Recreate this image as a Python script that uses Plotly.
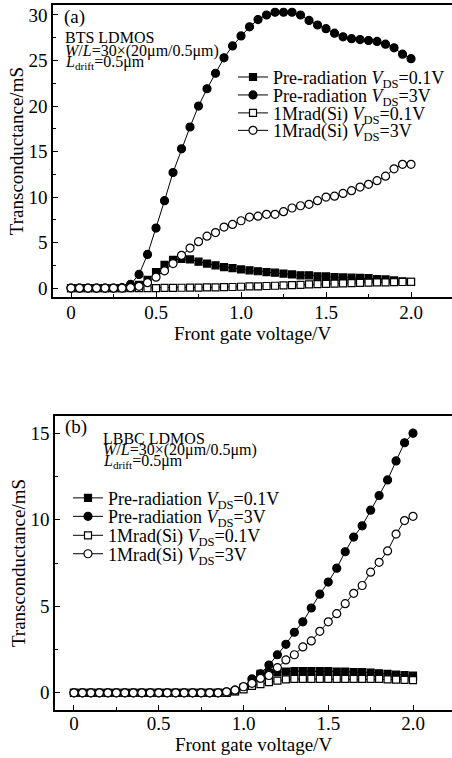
import plotly.graph_objects as go

W, H = 452, 758

# ---------------- data ----------------
vg = [0.00, 0.05, 0.10, 0.15, 0.20, 0.25, 0.30, 0.35, 0.40, 0.45, 0.50,
      0.55, 0.60, 0.65, 0.70, 0.75, 0.80, 0.85, 0.90, 0.95, 1.00,
      1.05, 1.10, 1.15, 1.20, 1.25, 1.30, 1.35, 1.40, 1.45, 1.50,
      1.55, 1.60, 1.65, 1.70, 1.75, 1.80, 1.85, 1.90, 1.95, 2.00]

# Panel (a) BTS LDMOS
a_pre_01 = [0, 0, 0, 0, 0, 0, 0, 0.1, 0.35, 0.9, 1.75,
            2.55, 3.1, 3.2, 3.15, 2.9, 2.7, 2.5, 2.3, 2.2, 2.05,
            1.95, 1.85, 1.75, 1.7, 1.6, 1.5, 1.4, 1.4, 1.3, 1.28,
            1.2, 1.17, 1.15, 1.13, 1.1, 1.0, 0.95, 0.85, 0.75, 0.68]
a_pre_3 = [0, 0, 0, 0, 0, 0, 0.05, 0.4, 1.5, 3.7, 6.6,
           9.6, 12.7, 15.3, 17.7, 20.0, 21.9, 23.6, 25.3, 26.6, 27.7,
           28.7, 29.5, 30.0, 30.3, 30.3, 30.3, 30.0, 29.4, 28.9, 28.5,
           28.0, 27.6, 27.4, 27.3, 27.2, 27.1, 26.8, 26.4, 25.7, 25.2]
a_rad_01 = [0, 0, 0, 0, 0, 0, 0, 0, 0, 0, 0,
            0.02, 0.03, 0.04, 0.05, 0.06, 0.08, 0.09, 0.1, 0.12, 0.15,
            0.18, 0.2, 0.23, 0.26, 0.3, 0.33, 0.36, 0.4, 0.43, 0.46,
            0.5, 0.52, 0.55, 0.57, 0.6, 0.62, 0.63, 0.65, 0.67, 0.7]
a_rad_3 = [0, 0, 0, 0, 0, 0, 0, 0.05, 0.2, 0.6, 1.2,
           1.9, 2.7, 3.6, 4.4, 5.1, 5.7, 6.1, 6.7, 7.0, 7.4,
           7.8, 7.9, 8.1, 8.1, 8.4, 8.8, 9.05, 9.2, 9.6, 10.0,
           10.1, 10.4, 10.7, 11.1, 11.4, 11.8, 12.3, 13.1, 13.6, 13.6]

# Panel (b) LBBC LDMOS
b_pre_01 = [0, 0, 0, 0, 0, 0, 0, 0, 0, 0, 0,
            0, 0, 0, 0, 0, 0, 0, 0, 0.1, 0.3,
            0.7, 1.1, 1.15, 1.2, 1.22, 1.25, 1.25, 1.25, 1.25, 1.25,
            1.23, 1.22, 1.2, 1.2, 1.17, 1.13, 1.1, 1.05, 1.02, 1.0]
b_pre_3 = [0, 0, 0, 0, 0, 0, 0, 0, 0, 0, 0,
           0, 0, 0, 0, 0, 0, 0, 0.05, 0.15, 0.35,
           0.8, 1.1, 1.6, 2.2, 2.8, 3.5, 4.1, 4.9, 5.7, 6.4,
           7.2, 8.15, 9.0, 9.65, 10.55, 11.4, 12.3, 13.4, 14.45, 15.0]
b_rad_01 = [0, 0, 0, 0, 0, 0, 0, 0, 0, 0, 0,
            0, 0, 0, 0, 0, 0, 0, 0, 0.08, 0.2,
            0.4, 0.5, 0.62, 0.7, 0.78, 0.8, 0.8, 0.8, 0.8, 0.8,
            0.8, 0.8, 0.8, 0.8, 0.8, 0.8, 0.78, 0.76, 0.75, 0.73]
b_rad_3 = [0, 0, 0, 0, 0, 0, 0, 0, 0, 0, 0,
           0, 0, 0, 0, 0, 0, 0, 0.06, 0.15, 0.35,
           0.55, 0.83, 1.0, 1.45, 1.9, 2.2, 2.65, 3.0, 3.55, 4.1,
           4.57, 5.15, 5.75, 6.2, 6.97, 7.54, 8.2, 9.17, 9.95, 10.2]

names = ["Pre-radiation <i>V</i><sub>DS</sub>=0.1V",
         "Pre-radiation <i>V</i><sub>DS</sub>=3V",
         "1Mrad(Si) <i>V</i><sub>DS</sub>=0.1V",
         "1Mrad(Si) <i>V</i><sub>DS</sub>=3V"]

xticks = [0, 0.5, 1.0, 1.5, 2.0]
xticklabels = ["0", "0.5", "1.0", "1.5", "2.0"]

# ---------------- styling ----------------
FONT = "Liberation Serif"
styles = [
    dict(symbol="square", size=7, color="black", lc="black"),
    dict(symbol="circle", size=8, color="black", lc="black"),
    dict(symbol="square", size=7, color="white", lc="black"),
    dict(symbol="circle", size=8, color="white", lc="black"),
]

def px2x(px):
    return px / W

def px2y(py):
    return 1 - py / H

fig = go.Figure()

panels = [
    ("x", "y", [a_pre_01, a_pre_3, a_rad_01, a_rad_3], [77.5, 95.5, 113.5, 131], 233, 1),
    ("x2", "y2", [b_pre_01, b_pre_3, b_rad_01, b_rad_3], [499.5, 518, 537, 555.5], 68, 5),
]

for xa, ya, series, rows, lx, lstart in panels:
    for i, (ys, st) in enumerate(zip(series, styles)):
        lg = "legend" if lstart + i == 1 else f"legend{lstart + i}"
        fig.add_trace(go.Scatter(
            x=vg, y=ys, xaxis=xa, yaxis=ya, mode="lines+markers",
            name=names[i], legend=lg,
            line=dict(color="black", width=1),
            marker=dict(symbol=st["symbol"], size=st["size"], color=st["color"],
                        line=dict(color=st["lc"], width=1.2)),
        ))
        fig.layout[lg] = dict(
            x=px2x(lx), y=px2y(rows[i]), xanchor="left", yanchor="middle",
            bgcolor="rgba(0,0,0,0)", borderwidth=0,
            font=dict(family=FONT, size=18, color="black"),
            itemwidth=30,
        )

axis_common = dict(
    showline=True, linecolor="black", linewidth=1.5,
    ticks="inside", ticklen=5, tickwidth=1.2, tickcolor="black",
    showgrid=False, zeroline=False,
    tickfont=dict(family=FONT, size=19, color="black"),
)

fig.update_layout(
    width=W, height=H, margin=dict(l=0, r=0, t=0, b=0),
    paper_bgcolor="white", plot_bgcolor="white",
    font=dict(family=FONT, color="black"),
    xaxis=dict(domain=[53 / W, 1], range=[-0.106, 2.241], anchor="y",
               tickvals=xticks, ticktext=xticklabels, mirror=True,
               ticklabelstandoff=-3,
               minor=dict(dtick=0.25, tick0=0, ticks="inside", ticklen=3, tickcolor="black"),
               title=dict(text="Front gate voltage/V", font=dict(family=FONT, size=19), standoff=0),
               **axis_common),
    yaxis=dict(domain=[px2y(298), px2y(5)], range=[-1.0, 31.1], anchor="x",
               dtick=5, tick0=0,
               minor=dict(dtick=2.5, tick0=0, ticks="inside", ticklen=3, tickcolor="black"),
               title=dict(text="Transconductance/mS", font=dict(family=FONT, size=19), standoff=0),
               **axis_common),
    xaxis2=dict(domain=[55 / W, 1], range=[-0.112, 2.230], anchor="y2",
                tickvals=xticks, ticktext=xticklabels, mirror=True,
                ticklabelstandoff=-5,
                minor=dict(dtick=0.25, tick0=0, ticks="inside", ticklen=3, tickcolor="black"),
                title=dict(text="Front gate voltage/V", font=dict(family=FONT, size=19), standoff=0),
                **axis_common),
    yaxis2=dict(domain=[px2y(712), px2y(417)], range=[-1.0, 16.0], anchor="x2",
                dtick=5, tick0=0,
                minor=dict(dtick=2.5, tick0=0, ticks="inside", ticklen=3, tickcolor="black"),
                title=dict(text="Transconductance/mS", font=dict(family=FONT, size=19), standoff=0),
                **axis_common),
    showlegend=True,
)

ann = []
def add_text(txt, px, py, size):
    ann.append(dict(text=txt, x=px2x(px), y=px2y(py), xref="paper", yref="paper",
                    xanchor="left", yanchor="middle", align="left", showarrow=False,
                    borderpad=0,
                    font=dict(family=FONT, size=size, color="black")))

add_text("(a)", 63, 17, 19)
add_text("BTS LDMOS", 64, 38, 16)
add_text("<i>W</i>/<i>L</i>=30×(20μm/0.5μm)", 64, 51, 16)
add_text("<i>L</i><sub>drift</sub>=0.5μm", 64, 63, 16)

add_text("(b)", 64, 428, 19)
add_text("LBBC LDMOS", 102, 440, 16)
add_text("<i>W</i>/<i>L</i>=30×(20μm/0.5μm)", 102, 451.5, 16)
add_text("<i>L</i><sub>drift</sub>=0.5μm", 102, 463, 16)

fig.update_layout(annotations=ann)

fig.write_html("out.html")
